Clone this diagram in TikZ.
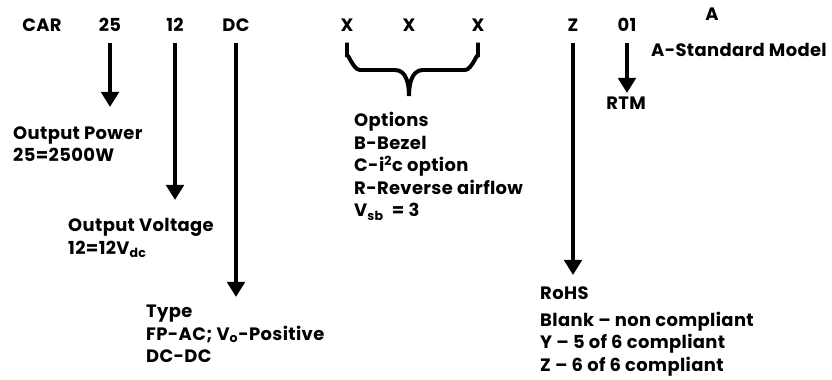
\documentclass[tikz,border=0pt]{standalone}
\usepackage{fontspec}
\setmainfont{Poppins}[LetterSpace=2]
\usetikzlibrary{arrows.meta}

\begin{document}
\begin{tikzpicture}[x=0.03cm,y=-0.03cm]
			\useasboundingbox (0,0) rectangle (832,379);
			\tikzstyle{every node}=[font=\fontsize{15.3}{19.2}\selectfont\bfseries];
			\tikzstyle{code}=[anchor=base,inner sep=0pt,outer sep=0pt];
			\tikzstyle{desc}=[anchor=north west,align=left,inner sep=0pt];
			\tikzstyle{arr}=[line width=3.6pt,shorten <=10pt,-{Triangle[width=15pt,length=13pt]}];
			% part number
			\path (42,31) node[code] (v0) {CAR};
			\path (110,31) node[code] (v1) {25};
			\path (175,31) node[code] (v2) {12};
			\path (236,31) node[code] (v3) {DC};
			\path (347,31) node[code] (v4) {X};
			\path (409,31) node[code] (v5) {X};
			\path (478,31) node[code] (v6) {X};
			\path (573,31) node[code] (v7) {Z};
			\path (627,31) node[code] (v8) {01};
			\path (712,20) node[code] (v9) {A};
			% descriptions
			\path (13,126) node[desc] (d1) {Output Power\\25=2500W};
			\path (68,218) node[desc] (d2) {Output Voltage\\12=12V\textsubscript{dc}};
			\path (146,305) node[desc] (d3) {Type\\FP-AC; V\textsubscript{o}-Positive\\DC-DC};
			\path (354,112) node[desc] (d4) {Options\\B-Bezel\\C-i\textsuperscript{2}c option\\R-Reverse airflow\\V\textsubscript{sb}\ \ = 3};
			\path (540,286) node[desc] (d5) {RoHS\\[4pt]Blank -- non compliant\\Y -- 5 of 6 compliant\\Z -- 6 of 6 compliant};
			\path (626,103) node (d6) {RTM};
			\path (739,50) node (d7) {A-Standard Model};
			% arrows
			\coordinate (e1) at (110,107);
			\coordinate (e2) at (175,200);
			\coordinate (e3) at (236,297);
			\coordinate (e4) at (573,275);
			\coordinate (e5) at (627,93);
			\draw[arr] (v1.south) -- (e1);
			\draw[arr] (v2.south) -- (e2);
			\draw[arr] (v3.south) -- (e3);
			\draw[arr] (v7.south) -- (e4);
			\draw[arr] (v8.south) -- (e5);
			% brace
			\draw[line width=3.4pt,shorten <=10pt,shorten >=10pt] (v4.south) -- (347,57)
				to[out=90,in=180] (360,70) -- (395,70) to[out=0,in=90] (409,96)
				to[out=90,in=180] (423,70) -- (465,70) to[out=0,in=90] (478,57) -- (v6.south);
		\end{tikzpicture}
\end{document}
